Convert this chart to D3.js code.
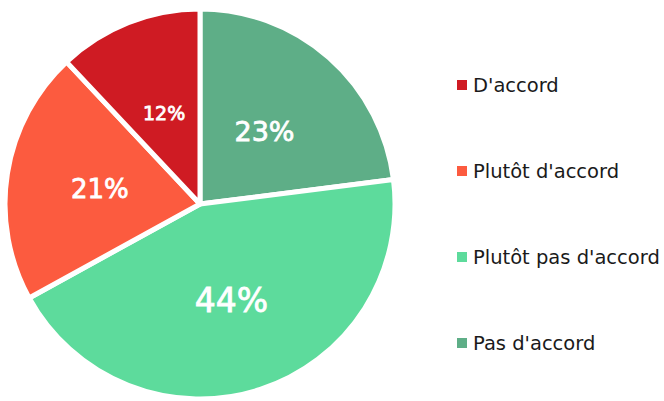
<!DOCTYPE html>
<html>
<head>
<meta charset="utf-8">
<script src="https://cdn.jsdelivr.net/npm/d3@7"></script>
<style>
  body { margin: 0; background: #fff; }
  svg text { font-family: "DejaVu Sans", Verdana, sans-serif; }
</style>
</head>
<body>
<div id="chart"></div>
<script>
// slices in drawing order, clockwise from 12 o'clock
var categories = ["Pas d'accord", "Plutôt pas d'accord", "Plutôt d'accord", "D'accord"];
var values = [23, 44, 21, 12];
var colors = ["#5eae87", "#5ddb9c", "#fc5b3f", "#cf1b23"];
// legend reads top to bottom
var legendOrder = ["D'accord", "Plutôt d'accord", "Plutôt pas d'accord", "Pas d'accord"];

var width = 664, height = 401;
var cx = 200, cy = 204, radius = 195;

var svg = d3.select("#chart").append("svg")
  .attr("width", width)
  .attr("height", height);

var g = svg.append("g")
  .attr("transform", "translate(" + cx + "," + cy + ")");

var color = d3.scaleOrdinal().domain(categories).range(colors);

var pie = d3.pie().sort(null).value(function (d) { return d.value; });
var data = categories.map(function (c, i) { return {name: c, value: values[i]}; });
var arcs = pie(data);

var arc = d3.arc().innerRadius(0).outerRadius(radius);

g.selectAll(".slice")
  .data(arcs)
  .enter().append("path")
  .attr("class", "slice")
  .attr("d", arc)
  .style("fill", function (d) { return color(d.data.name); })
  .style("stroke", "#fff")
  .style("stroke-width", 5)
  .style("stroke-linejoin", "round");

// label radius and font size vary by slice, like in the original
var labelR = [0.5, 0.52, 0.52, 0.5];
var labelSize = [27, 33, 26, 19];

g.selectAll(".pct")
  .data(arcs)
  .enter().append("text")
  .attr("class", "pct")
  .attr("transform", function (d, i) {
    var a = (d.startAngle + d.endAngle) / 2;
    var r = radius * labelR[i];
    return "translate(" + (Math.sin(a) * r) + "," + (-Math.cos(a) * r) + ")";
  })
  .attr("text-anchor", "middle")
  .attr("dy", "0.36em")
  .style("fill", "#fff")
  .style("stroke", "#fff")
  .style("stroke-width", 0.8)
  .style("font-size", function (d, i) { return labelSize[i] + "px"; })
  .text(function (d) { return d.data.value + "%"; });

// legend
var ly = d3.scalePoint().domain(legendOrder).range([85, 343]);

var legend = svg.selectAll(".legend")
  .data(legendOrder)
  .enter().append("g")
  .attr("class", "legend")
  .attr("transform", function (d) { return "translate(457," + ly(d) + ")"; });

legend.append("rect")
  .attr("x", 0).attr("y", -5)
  .attr("width", 10).attr("height", 10)
  .style("fill", function (d) { return color(d); });

legend.append("text")
  .attr("x", 16)
  .attr("dy", "0.36em")
  .style("font-size", "19.5px")
  .style("fill", "#1a1a1a")
  .text(function (d) { return d; });
</script>
</body>
</html>
